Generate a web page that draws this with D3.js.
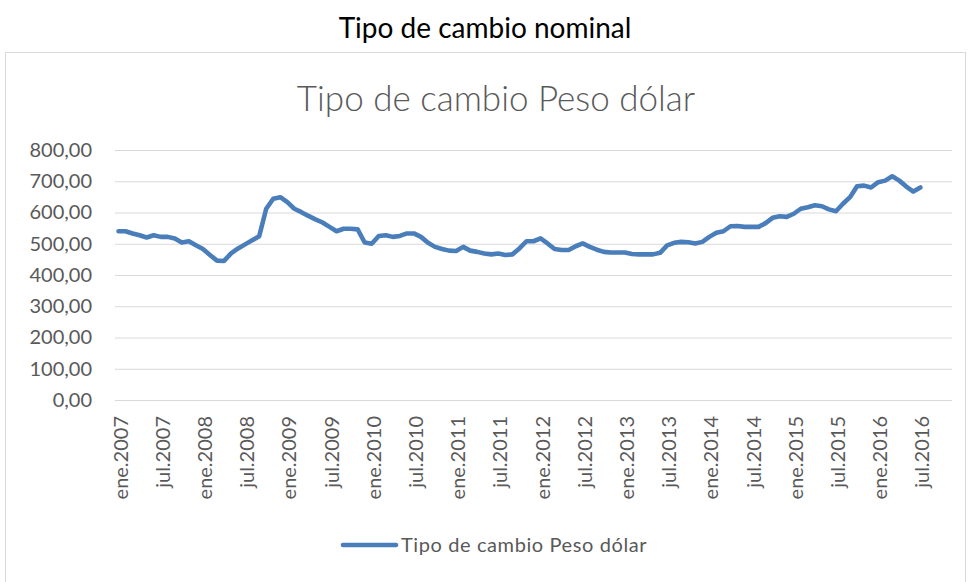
<!DOCTYPE html>
<html><head><meta charset="utf-8">
<script src="https://cdn.jsdelivr.net/npm/d3@7"></script>
<style>
html,body{margin:0;padding:0;background:#fff;}
svg{display:block;}
text{font-family:Lato,"Open Sans",sans-serif;}
</style></head>
<body>
<svg id="c" width="970" height="582"></svg>
<script>
// ---- data ----
const monthNames = ["ene","feb","mar","abr","may","jun","jul","ago","sep","oct","nov","dic"];
const years = [2007,2008,2009,2010,2011,2012,2013,2014,2015,2016];
// monthly categories ene.2007 .. nov.2016
const categories = [];
years.forEach(y => monthNames.forEach((m,i) => { if (!(y === 2016 && i > 10)) categories.push(m + "." + y); }));
const tickLabels = ["ene.2007","jul.2007","ene.2008","jul.2008","ene.2009","jul.2009","ene.2010","jul.2010",
  "ene.2011","jul.2011","ene.2012","jul.2012","ene.2013","jul.2013","ene.2014","jul.2014","ene.2015","jul.2015",
  "ene.2016","jul.2016"];
const yTicks = [0,100,200,300,400,500,600,700,800];
const seriesName = "Tipo de cambio Peso dólar";
// values ene.2007 .. jul.2016
const values = [
 540,540,533,527,520,527,522,522,517,504,508,495,
 483,464,446,445,469,485,498,511,524,612,644,649,
 633,612,601,589,578,568,554,540,548,548,546,504,
 500,525,527,522,525,533,533,522,503,490,483,478,
 477,490,478,474,469,466,469,464,466,485,508,508,
 517,501,483,480,480,492,501,490,481,474,472,472,
 472,467,466,466,466,471,495,503,506,505,501,506,
 522,535,540,556,557,554,554,554,566,583,588,586,
 596,612,617,623,620,610,604,628,649,684,686,680,
 697,702,716,702,683,667,680
];

// ---- chart ----
const svg = d3.select("#c");
const grey = "#595959", gridC = "#d9d9d9", lineC = "#4a7ebb";

svg.append("text").attr("x",485).attr("y",38).attr("text-anchor","middle")
  .attr("font-size",28).attr("fill","#000").text("Tipo de cambio nominal");

svg.append("rect").attr("x",5.5).attr("y",52.5).attr("width",960).attr("height",560)
  .attr("fill","none").attr("stroke",gridC).attr("stroke-width",1);

svg.append("text").attr("x",496).attr("y",111).attr("text-anchor","middle")
  .attr("font-size",35).attr("font-weight",300).attr("fill",grey).text(seriesName);

const x = d3.scaleBand().domain(categories).range([115,952]).paddingInner(0).paddingOuter(0);
const y = d3.scaleLinear().domain([0,800]).range([400,150]);

// gridlines
svg.append("g").selectAll("line").data(yTicks.filter(d=>d>0)).join("line")
  .attr("x1",115).attr("x2",952).attr("y1",d=>y(d)+0.5).attr("y2",d=>y(d)+0.5)
  .attr("stroke",gridC).attr("stroke-width",1);

// y axis labels
const fmt = d => d3.format(".2f")(d).replace(".", ",");
const yAxis = svg.append("g").attr("transform","translate(115,0)")
  .call(d3.axisLeft(y).tickValues(yTicks).tickFormat(fmt).tickSize(0).tickPadding(23));
yAxis.select(".domain").remove();
yAxis.selectAll("text").attr("font-size",20).attr("fill",grey).attr("font-family","Lato");

// x axis
const xAxis = svg.append("g").attr("transform","translate(0,400)")
  .call(d3.axisBottom(x).tickValues(tickLabels).tickSize(0));
xAxis.select(".domain").attr("stroke",gridC).attr("d","M115,0.5H952");
xAxis.selectAll("text").attr("font-size",20).attr("fill",grey).attr("font-family","Lato")
  .attr("text-anchor","end").attr("transform","rotate(-90)")
  .attr("x",-16).attr("y",2).attr("dy","0.35em");

// line
const line = d3.line().x((d,i)=>x(categories[i]) + x.bandwidth()/2).y(d=>y(d)).curve(d3.curveLinear);
svg.append("path").datum(values).attr("d",line).attr("fill","none")
  .attr("stroke",lineC).attr("stroke-width",4.6).attr("stroke-linejoin","round").attr("stroke-linecap","round");

// legend
const lg = svg.append("g");
lg.append("line").attr("x1",343).attr("x2",396).attr("y1",545).attr("y2",545)
  .attr("stroke",lineC).attr("stroke-width",4.6).attr("stroke-linecap","round");
lg.append("text").attr("x",401).attr("y",545).attr("dy","0.35em").attr("font-size",20)
  .attr("letter-spacing",0.6).attr("fill",grey).text(seriesName);
</script>
</body></html>
